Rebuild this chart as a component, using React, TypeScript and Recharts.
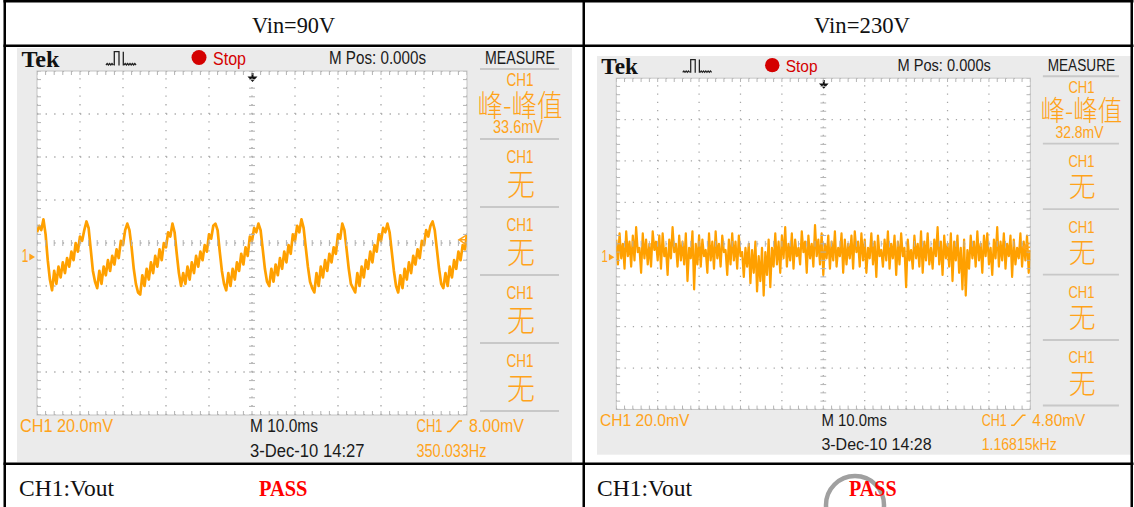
import React from 'react';
import { ComposedChart, Line, Scatter, XAxis, YAxis, ReferenceLine } from 'recharts';

// CH1 Vout at Vin=90V, mV from the screen centre, one sample every 0.5 ms
const vin90Step = 0.5;
const vin90Trace = [
  5, 8, 6, 11,
  4, -8, -17, -22, -13, -19, -11, -16, -9, -14, -7, -11, -4, -8, 0, -4, 3, 1, 6,
  10,
  7, -3, -13, -18, -21, -13, -19, -11, -15, -8, -13, -6, -10, -3, -7, 1, -1, 6,
  9,
  6, -2, -12, -19, -23, -24, -15, -20, -12, -17, -9, -14, -6, -11, -3, -8, 0, -2, 5, 3,
  9,
  5, -5, -14, -20, -14, -19, -11, -17, -9, -14, -6, -11, -4, -8, -1, -4, 4, 2, 8,
  9,
  6, -4, -13, -19, -22, -14, -20, -12, -17, -9, -13, -5, -10, -2, -6, 3, 1, 7, 5,
  9,
  6, -3, -12, -18, -20, -12, -18, -10, -15, -7, -12, -4, -9, -1, -5, 4, 1, 8, 5,
  11,
  7, -2, -11, -18, -21, -23, -14, -20, -11, -16, -8, -13, -5, -9, -2, -5, 4, 2,
  9,
  6, -3, -12, -19, -21, -23, -14, -20, -11, -16, -8, -12, -4, -9, -1, -4, 4, 1, 7, 5,
  9,
  5, -4, -13, -20, -23, -15, -21, -12, -17, -9, -14, -6, -10, -3, -7, 1, -1, 6, 3, 8,
  10,
  6, -3, -12, -19, -21, -14, -20, -11, -16, -8, -12, -4, -8, -1, -3, 4,
];

// CH1 Vout at Vin=230V, mV from the screen centre, one sample every 0.4 ms
const vin230Step = 0.4;
const vin230Trace = [
  2, -10, 5, -7, 0, -12, 6, -6, 1, -11,
  4, -8, 8, -4, -2, -14, 5, -7, 2, -10,
  0, -11, 6, -3, 1, -8, 4, -12, 5, -6,
  -2, -15, 2, -7, 8, -4, 0, -11, 4, -8,
  1, -10, 5, -18, -2, -7, 6, -22, 0, -10,
  4, -11, 2, -6, -3, -14, 5, -8, 1, -12,
  6, -7, 0, -11, 4, -4, -3, -15, 2, -10,
  5, -8, 1, -12, 4, -6, -4, -16, -2, -11,
  0, -19, -3, -14, 1, -23, -6, -18, -2, -25,
  -4, -15, 2, -21, -2, -11, 5, -10, 1, -14,
  4, -7, 8, -11, 0, -8, 5, -12, 2, -6,
  -2, -10, 6, -4, 1, -14, 4, -7, 0, -11,
  9, -6, 2, -10, 5, -15, 0, -7, 4, -12,
  1, -8, 6, -11, -2, -6, 5, -14, 2, -10,
  0, -7, 4, -12, 6, -4, 1, -11, 5, -8,
  2, -14, -2, -7, 5, -10, 1, -16, 4, -6,
  -3, -11, 2, -8, 6, -12, 0, -7, 4, -15,
  1, -10, 5, -6, -2, -21, 2, -8, -3, -12,
  4, -7, 0, -11, 6, -14, 1, -8, 5, -10,
  -2, -12, 2, -6, 8, -10, 1, -15, 4, -7,
  0, -11, 5, -18, 1, -8, 4, -14, -2, -22,
  2, -25, -3, -12, 4, -7, 1, -11, 6, -8,
  0, -14, 4, -6, 5, -10, -2, -15, 2, -7,
  8, -11, 1, -8, 5, -12, 0, -6, 4, -16,
  2, -10, -2, -7, 5, -11, 1, -8, 4, -14,
  -3,
];

const timeTicks = [0, 10, 20, 30, 40, 50, 60, 70, 80, 90, 100]; // ms, 10 ms/div
const voltTicks = [-80, -60, -40, -20, 0, 20, 40, 60, 80]; // mV, 20 mV/div
const groundMv = -6.5; // CH1 marker, below the centre line

const titles = ['Vin=90V', 'Vin=230V'];
const peakToPeak = ['33.6mV', '32.8mV'];
const trigLabels = ['8.00mV', '4.80mV'];
const trigLevels = [8, 4.8];
const freqs = ['350.033Hz', '1.16815kHz'];
const stamps = ['3-Dec-10 14:27', '3-Dec-10 14:28'];

const ORANGE = '#ffa31a';
const TRACE = '#ffa000';
const SANS = '"Liberation Sans", Arial, sans-serif';
const SERIF = '"Liberation Serif", "Times New Roman", serif';
const CJK = '"Noto Sans CJK SC", sans-serif';

const Label = ({ x, y, w, size = 18, fill = '#1a1a1a', family = SANS, weight = 400, anchor = 'start', children }: any) => (
  <text x={x} y={y} textLength={w} lengthAdjust="spacingAndGlyphs" fontSize={size}
    fontFamily={family} fontWeight={weight} fill={fill} textAnchor={anchor}>{children}</text>
);

const minorT = Array.from({ length: 51 }, (_, i) => i * 2);
const minorV = Array.from({ length: 41 }, (_, i) => -80 + i * 4);
const gridTicks = [
  ...minorT.map((t) => ({ t, v: 80, kind: 'top' })),
  ...minorT.map((t) => ({ t, v: -80, kind: 'bottom' })),
  ...minorT.map((t) => ({ t, v: 0, kind: 'midH' })),
  ...minorV.map((v) => ({ t: 0, v, kind: 'left' })),
  ...minorV.map((v) => ({ t: 100, v, kind: 'right' })),
  ...minorV.map((v) => ({ t: 50, v, kind: 'midV' })),
];

const tickShape = (p: any) => {
  const { cx, cy, payload } = p;
  const d: Record<string, string> = {
    top: `M${cx},${cy}v4`,
    bottom: `M${cx},${cy}v-4`,
    midH: `M${cx},${cy - 3}v6`,
    left: `M${cx},${cy}h4`,
    right: `M${cx},${cy}h-4`,
    midV: `M${cx - 3},${cy}h6`,
  };
  return <path d={d[payload.kind]} stroke="#b2b2b2" strokeWidth={1} fill="none" />;
};

const trigShape = (p: any) => {
  const { cx, cy } = p;
  return <path d={`M${cx - 1},${cy - 4.5}L${cx - 8},${cy}L${cx - 1},${cy + 4.5}M${cx - 8},${cy}H${cx}`}
    stroke={ORANGE} strokeWidth={1.5} fill="none" />;
};

// one oscilloscope screenshot, drawn in its own 555x414 box
function Scope({ idx, trace, step, left, top, scale, width }: any) {
  const data = trace.map((v: number, i: number) => ({ t: +(i * step).toFixed(2), v }));
  const trig = [{ t: 100, v: groundMv + trigLevels[idx] }];
  const GX = 20, GY = 23, GW = 430, GH = 344;
  const gy = GY + ((80 - groundMv) / 160) * GH;
  const cx = 503;
  const seps = [21, 91, 159, 227, 295, 363];
  return (
    <div style={{ position: 'absolute', left, top, width: 555, height: 414, background: '#ebebeb',
      transform: `scale(${scale})`, transformOrigin: '0 0' }}>
      <svg width={555} height={414} style={{ position: 'absolute', left: 0, top: 0 }}>
        <rect x={GX} y={GY} width={GW} height={GH} fill="#fff" stroke="#c4c4c4" />
        <Label x={4.5} y={18.5} w={38} size={23} family={SERIF} weight={700} fill="#111">Tek</Label>
        <path d="M89,17l1.2,-1.5l1.2,1.5l1.2,-1.5l1.2,1.5l1.2,-1.5l1.2,1.5M97.3,17.5V3.7H102V17.5M106.3,17.5V3.7M107,17l1.2,-1.5l1.2,1.5l1.2,-1.5l1.2,1.5l1.2,-1.5l1.2,1.5l1.2,-1.5l1.2,1.5l1.2,-1.5l1.2,1.5"
          stroke="#222" strokeWidth={1.3} fill="none" />
        <circle cx={182} cy={9.5} r={7.5} fill="#d40000" />
        <Label x={196} y={17} w={33} fill="#d40000">Stop</Label>
        <Label x={312} y={15.5} w={97}>M Pos: 0.000s</Label>
        <Label x={468} y={15.5} w={70}>MEASURE</Label>
        {seps.map((s) => <line key={s} x1={463} x2={542} y1={s} y2={s} stroke="#c8c8c8" strokeWidth={2} />)}
        <Label x={cx} y={38} w={27} fill={ORANGE} anchor="middle">CH1</Label>
        <Label x={cx} y={67.5} w={85} size={30} family={CJK} weight={300} fill={ORANGE} anchor="middle">峰-峰值</Label>
        <Label x={cx - 2} y={85.3} w={50} fill={ORANGE} anchor="middle">{peakToPeak[idx]}</Label>
        {seps.slice(1, 5).map((s) => (
          <g key={s}>
            <Label x={cx} y={s + 24.3} w={27} fill={ORANGE} anchor="middle">CH1</Label>
            <Label x={cx + 1} y={s + 55.5} w={28} size={30} family={CJK} weight={300} fill={ORANGE} anchor="middle">无</Label>
          </g>
        ))}
        <path d="M234.5,25h2v3.5h4l-5,5.5l-5,-5.5h4z" fill="#111" />
        <Label x={4.7} y={gy + 4.7} w={6.6} fill={ORANGE}>1</Label>
        <path d={`M12.3,${gy - 3.5}L18,${gy}L12.3,${gy + 3.5}z`} fill={ORANGE} />
        <Label x={3} y={383.7} w={93} fill={ORANGE}>CH1  20.0mV</Label>
        <Label x={233} y={383.7} w={68}>M 10.0ms</Label>
        <Label x={399.5} y={383.7} w={26} fill={ORANGE}>CH1</Label>
        <path d="M430,383.5h3L442,373h3" stroke={ORANGE} strokeWidth={1.5} fill="none" />
        <Label x={452} y={383.7} w={55} fill={ORANGE}>{trigLabels[idx]}</Label>
        <Label x={233} y={408.7} w={114.5}>{stamps[idx]}</Label>
        <Label x={399.5} y={408.7} w={idx === 0 ? 70 : 78} fill={ORANGE}>{freqs[idx]}</Label>
      </svg>
      <div style={{ position: 'absolute', left: GX, top: GY }}>
        <ComposedChart width={GW} height={GH} margin={{ top: 0, right: 0, bottom: 0, left: 0 }}>
          <XAxis dataKey="t" type="number" domain={[0, 100]} ticks={timeTicks} height={0}
            axisLine={false} tickLine={false} tick={false} />
          <YAxis type="number" domain={[-80, 80]} ticks={voltTicks} width={0}
            axisLine={false} tickLine={false} tick={false} />
          {timeTicks.map((t) => (
            <ReferenceLine key={'t' + t} x={t} stroke="#a6a6a6" strokeWidth={1.3} strokeDasharray="1.3 7.3" ifOverflow="visible" />
          ))}
          {voltTicks.map((v) => (
            <ReferenceLine key={'v' + v} y={v} stroke="#a6a6a6" strokeWidth={1.3} strokeDasharray="1.3 7.3" ifOverflow="visible" />
          ))}
          <Scatter data={gridTicks} dataKey="v" shape={tickShape} isAnimationActive={false} />
          <Line data={data} dataKey="v" type="linear" stroke={TRACE} strokeWidth={width}
            strokeLinejoin="round" dot={false} isAnimationActive={false} />
          <Scatter data={trig} dataKey="v" shape={trigShape} isAnimationActive={false} />
        </ComposedChart>
      </div>
    </div>
  );
}

export default function App() {
  return (
    <div style={{ position: 'relative', width: 1134, height: 507, background: '#fff', overflow: 'hidden' }}>
      <style>{'body{margin:0}'}</style>
      <Scope idx={0} trace={vin90Trace} step={vin90Step} left={17} top={48} scale={1} width={2.7} />
      <Scope idx={1} trace={vin230Trace} step={vin230Step} left={597} top={56} scale={0.963} width={2.3} />
      <svg width={1134} height={507} style={{ position: 'absolute', left: 0, top: 0 }}>
        <rect x={3.5} y={0} width={1130} height={2.5} fill="#000" />
        <rect x={3.5} y={0} width={2.5} height={507} fill="#000" />
        <rect x={582.5} y={0} width={2.5} height={507} fill="#000" />
        <rect x={1130.5} y={0} width={2.5} height={507} fill="#000" />
        <rect x={3.5} y={44.5} width={1130} height={2.5} fill="#000" />
        <rect x={3.5} y={462.5} width={1130} height={2.5} fill="#000" />
        <Label x={252} y={33} w={83} size={23} family={SERIF} fill="#111">{titles[0]}</Label>
        <Label x={814} y={33} w={96} size={23} family={SERIF} fill="#111">{titles[1]}</Label>
        <Label x={19} y={496} w={95} size={23} family={SERIF} fill="#111">CH1:Vout</Label>
        <Label x={597} y={496} w={95} size={23} family={SERIF} fill="#111">CH1:Vout</Label>
        <Label x={259} y={496} w={48.5} size={24} family={SERIF} weight={700} fill="#ff0000">PASS</Label>
        <circle cx={855} cy={505} r={29} stroke="#a0a0a0" strokeWidth={4.5} fill="none" />
        <Label x={849} y={496} w={47.6} size={24} family={SERIF} weight={700} fill="#ff0000">PASS</Label>
      </svg>
    </div>
  );
}
